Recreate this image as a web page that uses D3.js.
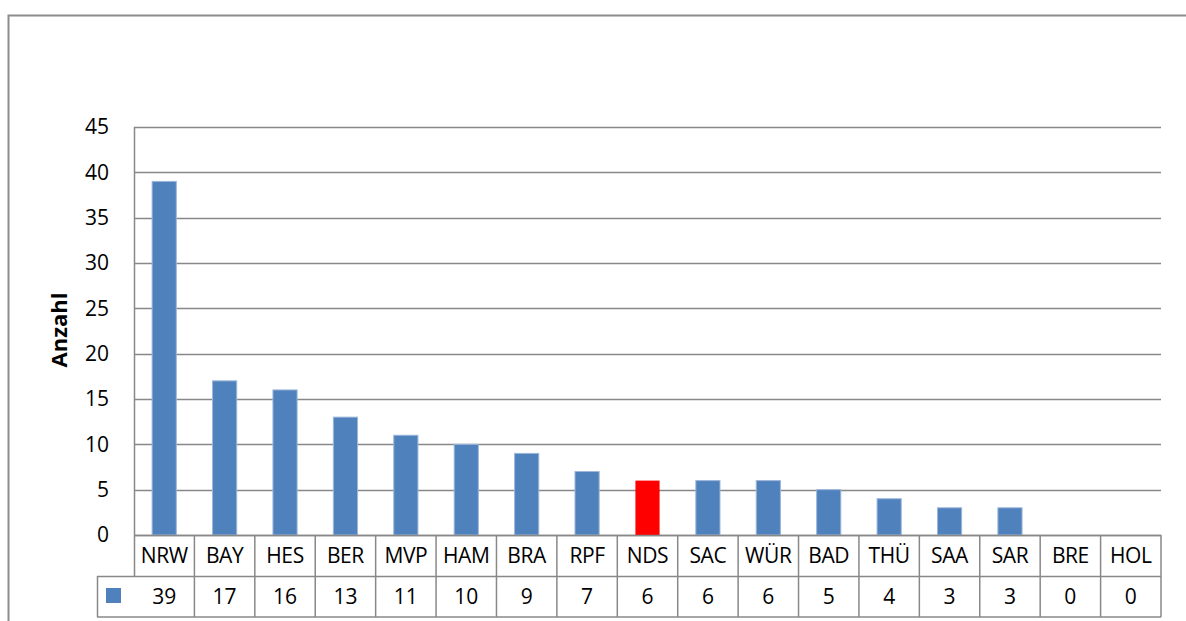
<!DOCTYPE html>
<html>
<head>
<meta charset="utf-8">
<style>
    html, body { margin: 0; padding: 0; background: #fff; }
    svg { display: block; }
    text { font-family: "Open Sans", "Noto Sans", sans-serif; fill: #000; }
</style>
<script src="https://d3js.org/d3.v7.min.js"></script>
</head>
<body>
<svg width="1186" height="621"></svg>
<script>
    // data
    var categories = ["NRW", "BAY", "HES", "BER", "MVP", "HAM", "BRA", "RPF", "NDS", "SAC", "WÜR", "BAD", "THÜ", "SAA", "SAR", "BRE", "HOL"];
    var values = [39, 17, 16, 13, 11, 10, 9, 7, 6, 6, 6, 5, 4, 3, 3, 0, 0];
    var highlight = ["NDS"];
    var yTicks = [0, 5, 10, 15, 20, 25, 30, 35, 40, 45];

    var svg = d3.select("svg"),
        plot = {left: 134, right: 1161, top: 127, bottom: 535},
        rowH = 41,
        gridColor = "#888";

    // outer chart frame (cut off on the right)
    svg.append("path")
        .attr("d", "M8.5,621 V15.5 H1186")
        .attr("fill", "none")
        .attr("stroke", "#8c8c8c")
        .attr("stroke-width", 2);

    var x = d3.scaleBand()
        .domain(categories)
        .range([plot.left, plot.right]);

    var y = d3.scaleLinear()
        .domain([0, 45])
        .range([plot.bottom, plot.top]);

    var g = svg.append("g");

    // horizontal grid
    g.append("g").selectAll("line")
        .data(yTicks)
        .enter().append("line")
        .attr("x1", plot.left)
        .attr("x2", plot.right)
        .attr("y1", function(d) { return Math.round(y(d)) + 0.5; })
        .attr("y2", function(d) { return Math.round(y(d)) + 0.5; })
        .attr("stroke", gridColor)
        .attr("stroke-width", 1.5);

    // left axis line
    g.append("line")
        .attr("x1", plot.left + 0.5).attr("x2", plot.left + 0.5)
        .attr("y1", plot.top).attr("y2", plot.bottom + rowH)
        .attr("stroke", gridColor).attr("stroke-width", 1.5);

    // y tick labels
    g.append("g").selectAll("text")
        .data(yTicks)
        .enter().append("text")
        .attr("x", 109)
        .attr("y", function(d) { return y(d); })
        .attr("dy", "0.35em")
        .attr("text-anchor", "end")
        .style("font-size", "21px")
        .text(function(d) { return d; });

    // y title
    svg.append("text")
        .attr("transform", "translate(67,330) rotate(-90)")
        .attr("text-anchor", "middle")
        .style("font-size", "22px")
        .style("font-weight", "bold")
        .text("Anzahl");

    // bars
    var bw = x.bandwidth() * 0.4;
    g.append("g").selectAll("rect")
        .data(categories)
        .enter().append("rect")
        .attr("x", function(d) { return x(d) + (x.bandwidth() - bw) / 2; })
        .attr("width", bw)
        .attr("y", function(d, i) { return y(values[i]); })
        .attr("height", function(d, i) { return plot.bottom - y(values[i]); })
        .attr("fill", function(d) { return highlight.indexOf(d) >= 0 ? "#ff0000" : "#4f81bd"; })
        .attr("stroke", function(d) { return highlight.indexOf(d) >= 0 ? "none" : "#9db6da"; })
        .attr("stroke-width", 1);

    // data table
    var t0 = plot.bottom, t1 = plot.bottom + rowH, t2 = plot.bottom + 2 * rowH;
    var tbl = svg.append("g");

    // column separators
    tbl.selectAll("line.col")
        .data(categories)
        .enter().append("line")
        .attr("class", "col")
        .attr("x1", function(d) { return x(d) + x.bandwidth(); })
        .attr("x2", function(d) { return x(d) + x.bandwidth(); })
        .attr("y1", t0).attr("y2", t2)
        .attr("stroke", gridColor).attr("stroke-width", 1.5);

    // row lines
    tbl.append("line")
        .attr("x1", plot.left).attr("x2", plot.right)
        .attr("y1", t0 + 0.5).attr("y2", t0 + 0.5)
        .attr("stroke", gridColor).attr("stroke-width", 1.5);
    tbl.append("line")
        .attr("x1", 97).attr("x2", plot.right)
        .attr("y1", t1 + 0.5).attr("y2", t1 + 0.5)
        .attr("stroke", gridColor).attr("stroke-width", 1.5);
    tbl.append("line")
        .attr("x1", 97).attr("x2", plot.right)
        .attr("y1", t2).attr("y2", t2)
        .attr("stroke", gridColor).attr("stroke-width", 1.5);
    tbl.append("line")
        .attr("x1", 97.5).attr("x2", 97.5)
        .attr("y1", t1).attr("y2", t2)
        .attr("stroke", gridColor).attr("stroke-width", 1.5);

    // legend key
    tbl.append("rect")
        .attr("x", 106).attr("y", 588)
        .attr("width", 15).attr("height", 15)
        .attr("fill", "#4f81bd");

    tbl.selectAll("text.cat")
        .data(categories)
        .enter().append("text")
        .attr("class", "cat")
        .attr("x", function(d) { return x(d) + x.bandwidth() / 2; })
        .attr("y", (t0 + t1) / 2)
        .attr("dy", "0.35em")
        .attr("text-anchor", "middle")
        .style("font-size", "21px")
        .style("letter-spacing", "-0.4px")
        .text(function(d) { return d; });

    tbl.selectAll("text.val")
        .data(categories)
        .enter().append("text")
        .attr("class", "val")
        .attr("x", function(d) { return x(d) + x.bandwidth() / 2; })
        .attr("y", (t1 + t2) / 2)
        .attr("dy", "0.35em")
        .attr("text-anchor", "middle")
        .style("font-size", "21px")
        .text(function(d, i) { return values[i]; });
</script>
</body>
</html>
